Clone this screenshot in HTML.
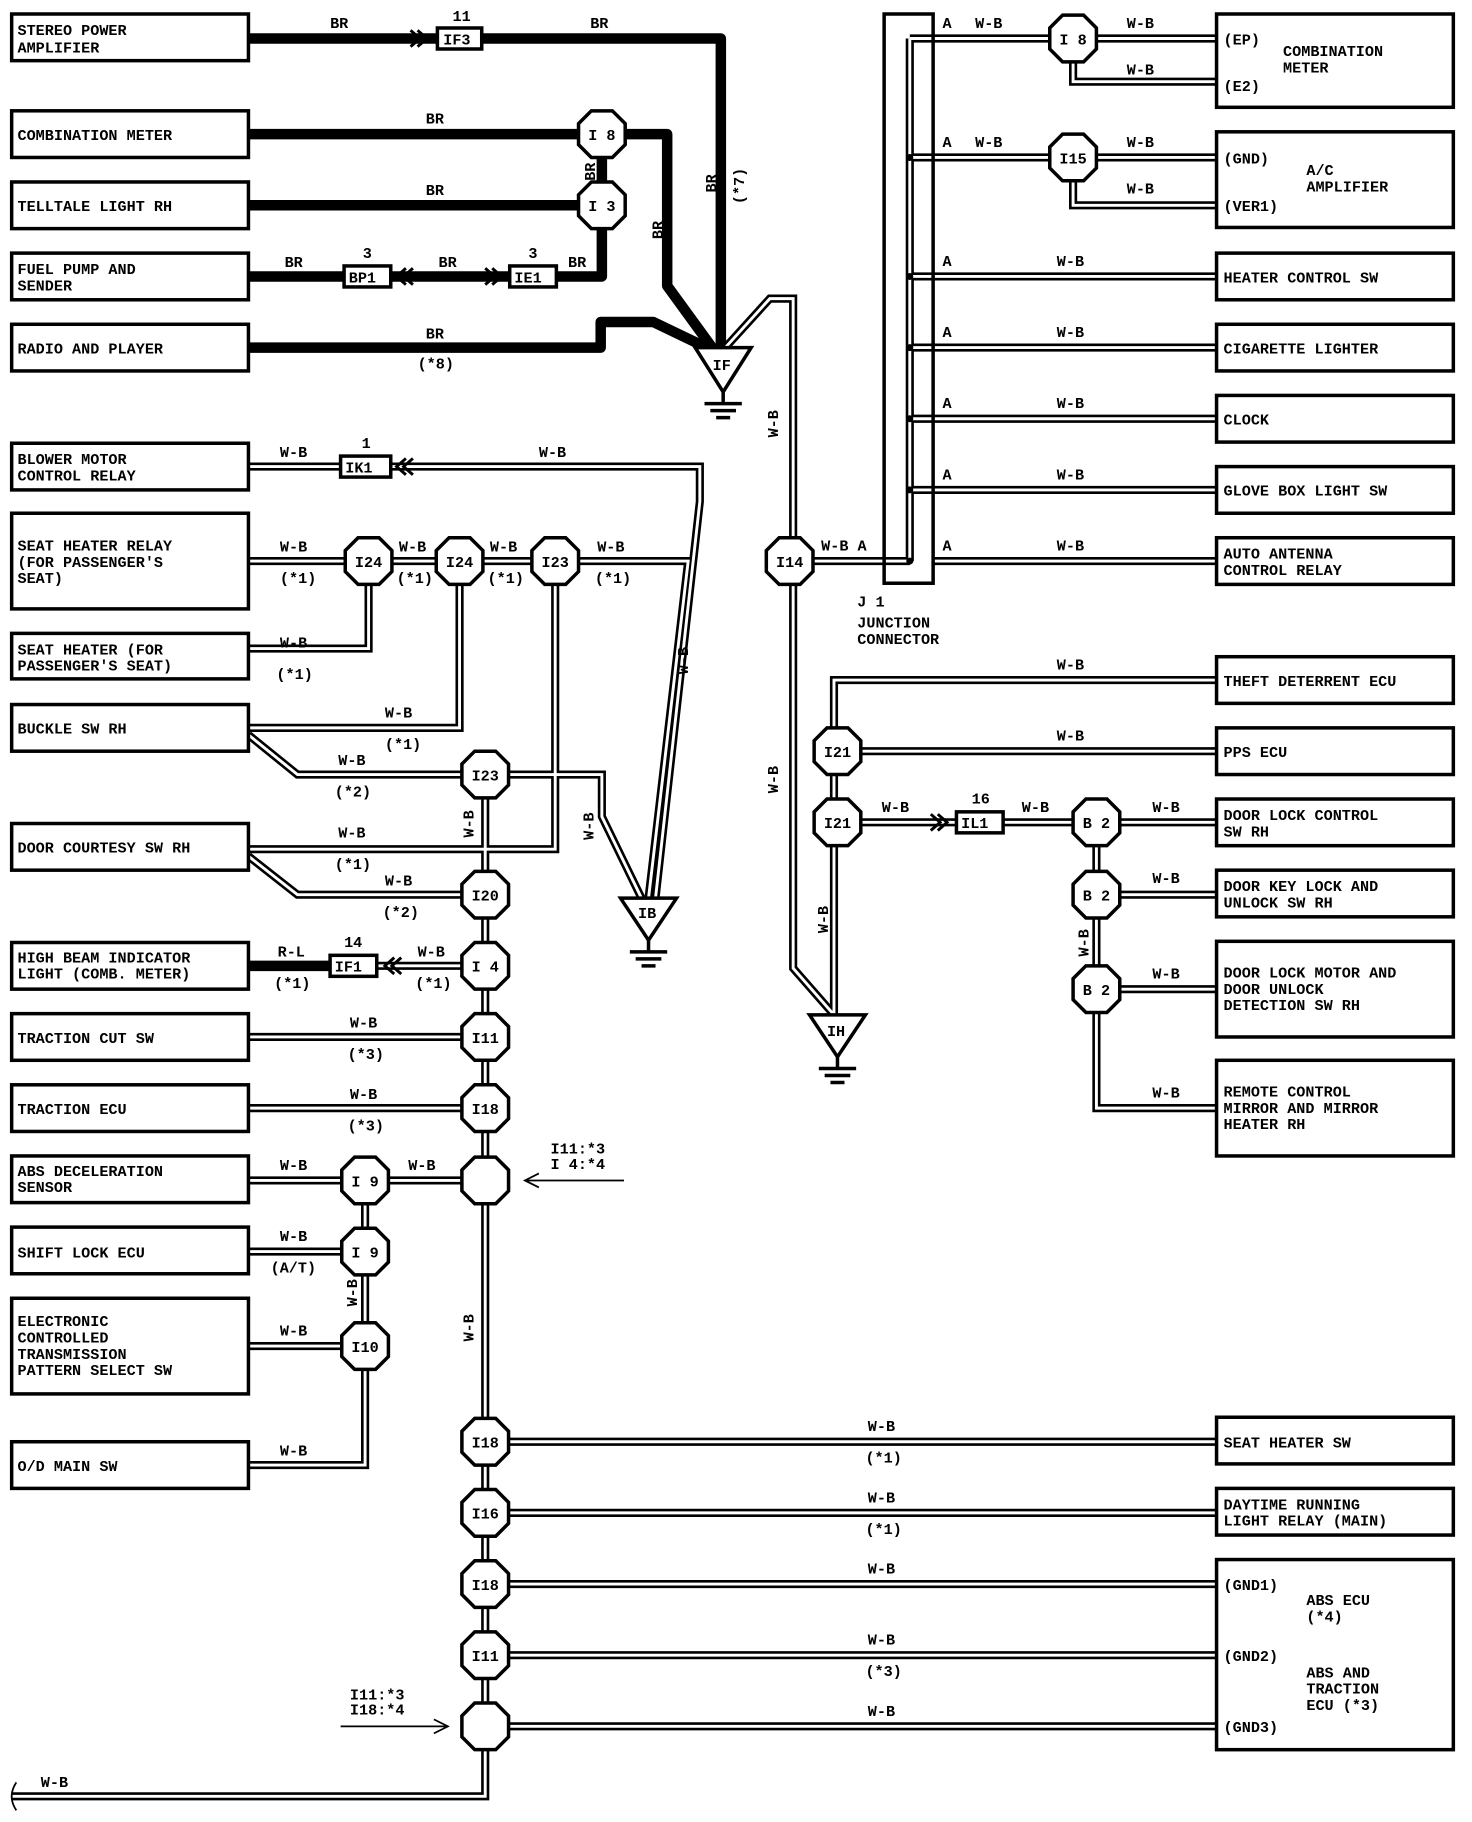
<!DOCTYPE html>
<html><head><meta charset="utf-8"><style>
html,body{margin:0;padding:0;background:#fff;}
svg{display:block;}
text{font-family:"Liberation Mono",monospace;font-weight:bold;font-size:13px;fill:#000;}
.bx{fill:#fff;stroke:#000;stroke-width:3;}
.oc{fill:#fff;stroke:#000;stroke-width:3;}
.br{fill:none;stroke:#000;stroke-width:9;stroke-linejoin:round;}
</style></head><body>
<svg width="1472" height="1822" viewBox="0 0 1262 1562" preserveAspectRatio="none" xmlns="http://www.w3.org/2000/svg">
<defs>
<g id="wb" fill="none">
<path d="M620,300 L660,256 L680,256 L680,830 L715,870"/>
<path d="M697,481 L780,481 M780,33 L780,481"/>
<path d="M780,33 H1043 M920,53 V70 H1043 M780,135 H1043 M920,155 V176 H1043"/>
<path d="M780,237 H1043 M780,298 H1043 M780,359 H1043 M780,420 H1043 M800,481 H1043"/>
<path d="M1043,583 H715 V870 M738,644 H1043 M738,705 H1043 M940,705 V950 H1043 M940,767 H1043 M940,848 H1043"/>
<path d="M213,400 H600 V430 L562,770"/>
<path d="M213,481 H590 L556,770"/>
<path d="M213,556 H316 V481 M213,624 H394 V481 M213,630 L255,664 H516 V700 L550,770"/>
<path d="M476,481 V728 H213 M213,734 L255,767 H416"/>
<path d="M416,664 V1540 H10"/>
<path d="M213,889 H416 M213,950 H416 M213,1012 H416 M213,1073 H313 M313,1012 V1256 H213 M213,1154 H313"/>
<path d="M323,828 H416"/>
<path d="M416,1236 H1043 M416,1297 H1043 M416,1358 H1043 M416,1419 H1043 M416,1480 H1043"/>
</g>
</defs>
<rect width="1262" height="1562" fill="#fff"/>
<!-- BR thick -->
<path class="br" d="M213,33 H618 V300"/>
<path class="br" d="M213,115 H572 V245 L612,300"/>
<path class="br" d="M516,115 V176 M213,176 H516 M213,237 H516 V176"/>
<path class="br" d="M213,298 H515 V276 H560 L610,300"/>
<path class="br" d="M213,828 H300"/>
<!-- W-B double -->
<use href="#wb" stroke="#000" stroke-width="7"/>
<use href="#wb" stroke="#fff" stroke-width="2.5"/>
<!-- J1 -->
<rect x="758" y="12" width="42" height="488" fill="none" stroke="#000" stroke-width="3"/>
<g fill="#000"><circle cx="780" cy="135" r="3"/><circle cx="780" cy="237" r="3"/><circle cx="780" cy="298" r="3"/><circle cx="780" cy="359" r="3"/><circle cx="780" cy="420" r="3"/><circle cx="780" cy="481" r="3"/></g>
<!-- left boxes -->
<g class="bx">
<rect x="10" y="12" width="203" height="40"/><rect x="10" y="95" width="203" height="40"/><rect x="10" y="156" width="203" height="40"/>
<rect x="10" y="217" width="203" height="40"/><rect x="10" y="278" width="203" height="40"/><rect x="10" y="380" width="203" height="40"/>
<rect x="10" y="440" width="203" height="82"/><rect x="10" y="543" width="203" height="39"/><rect x="10" y="604" width="203" height="40"/>
<rect x="10" y="706" width="203" height="40"/><rect x="10" y="808" width="203" height="40"/><rect x="10" y="869" width="203" height="40"/>
<rect x="10" y="930" width="203" height="40"/><rect x="10" y="991" width="203" height="40"/><rect x="10" y="1052" width="203" height="40"/>
<rect x="10" y="1113" width="203" height="82"/><rect x="10" y="1236" width="203" height="40"/>
<rect x="1043" y="12" width="203" height="80"/><rect x="1043" y="113" width="203" height="82"/><rect x="1043" y="217" width="203" height="40"/>
<rect x="1043" y="278" width="203" height="40"/><rect x="1043" y="339" width="203" height="40"/><rect x="1043" y="400" width="203" height="40"/>
<rect x="1043" y="461" width="203" height="40"/><rect x="1043" y="563" width="203" height="40"/><rect x="1043" y="624" width="203" height="40"/>
<rect x="1043" y="685" width="203" height="40"/><rect x="1043" y="746" width="203" height="40"/><rect x="1043" y="807" width="203" height="82"/>
<rect x="1043" y="909" width="203" height="82"/><rect x="1043" y="1215" width="203" height="40"/><rect x="1043" y="1276" width="203" height="40"/>
<rect x="1043" y="1337" width="203" height="163"/>
</g>
<g>
<text x="15" y="30">STEREO POWER</text><text x="15" y="45">AMPLIFIER</text>
<text x="15" y="120">COMBINATION METER</text>
<text x="15" y="181">TELLTALE LIGHT RH</text>
<text x="15" y="235">FUEL PUMP AND</text><text x="15" y="249">SENDER</text>
<text x="15" y="303">RADIO AND PLAYER</text>
<text x="15" y="398">BLOWER MOTOR</text><text x="15" y="412">CONTROL RELAY</text>
<text x="15" y="472">SEAT HEATER RELAY</text><text x="15" y="486">(FOR PASSENGER'S</text><text x="15" y="500">SEAT)</text>
<text x="15" y="561">SEAT HEATER (FOR</text><text x="15" y="575">PASSENGER'S SEAT)</text>
<text x="15" y="629">BUCKLE SW RH</text>
<text x="15" y="731">DOOR COURTESY SW RH</text>
<text x="15" y="825">HIGH BEAM INDICATOR</text><text x="15" y="839">LIGHT (COMB. METER)</text>
<text x="15" y="894">TRACTION CUT SW</text>
<text x="15" y="955">TRACTION ECU</text>
<text x="15" y="1008">ABS DECELERATION</text><text x="15" y="1022">SENSOR</text>
<text x="15" y="1078">SHIFT LOCK ECU</text>
<text x="15" y="1137">ELECTRONIC</text><text x="15" y="1151">CONTROLLED</text><text x="15" y="1165">TRANSMISSION</text><text x="15" y="1179">PATTERN SELECT SW</text>
<text x="15" y="1261">O/D MAIN SW</text>
<text x="1049" y="38">(EP)</text><text x="1100" y="48">COMBINATION</text><text x="1100" y="62">METER</text><text x="1049" y="78">(E2)</text>
<text x="1049" y="140">(GND)</text><text x="1120" y="150">A/C</text><text x="1120" y="164">AMPLIFIER</text><text x="1049" y="181">(VER1)</text>
<text x="1049" y="242">HEATER CONTROL SW</text>
<text x="1049" y="303">CIGARETTE LIGHTER</text>
<text x="1049" y="364">CLOCK</text>
<text x="1049" y="425">GLOVE BOX LIGHT SW</text>
<text x="1049" y="479">AUTO ANTENNA</text><text x="1049" y="493">CONTROL RELAY</text>
<text x="1049" y="588">THEFT DETERRENT ECU</text>
<text x="1049" y="649">PPS ECU</text>
<text x="1049" y="703">DOOR LOCK CONTROL</text><text x="1049" y="717">SW RH</text>
<text x="1049" y="764">DOOR KEY LOCK AND</text><text x="1049" y="778">UNLOCK SW RH</text>
<text x="1049" y="838">DOOR LOCK MOTOR AND</text><text x="1049" y="852">DOOR UNLOCK</text><text x="1049" y="866">DETECTION SW RH</text>
<text x="1049" y="940">REMOTE CONTROL</text><text x="1049" y="954">MIRROR AND MIRROR</text><text x="1049" y="968">HEATER RH</text>
<text x="1049" y="1241">SEAT HEATER SW</text>
<text x="1049" y="1294">DAYTIME RUNNING</text><text x="1049" y="1308">LIGHT RELAY (MAIN)</text>
<text x="1049" y="1363">(GND1)</text><text x="1120" y="1376">ABS ECU</text><text x="1120" y="1390">(*4)</text>
<text x="1049" y="1424">(GND2)</text><text x="1120" y="1438">ABS AND</text><text x="1120" y="1452">TRACTION</text><text x="1120" y="1466">ECU (*3)</text>
<text x="1049" y="1485">(GND3)</text>
<text x="735" y="520">J 1</text><text x="735" y="538">JUNCTION</text><text x="735" y="552">CONNECTOR</text>
</g>
<!-- inline connectors -->
<g class="bx" stroke-width="2.5">
<rect x="375" y="24" width="38" height="18"/><rect x="295" y="228" width="40" height="18"/><rect x="437" y="228" width="40" height="18"/>
<rect x="292" y="391" width="43" height="18"/><rect x="283" y="819" width="40" height="18"/><rect x="820" y="696" width="40" height="18"/>
</g>
<g fill="none" stroke="#000" stroke-width="2.5">
<path d="M352,26 L360,33 L352,40 M358,26 L366,33 L358,40"/>
<path d="M348,230 L340,237 L348,244 M354,230 L346,237 L354,244"/>
<path d="M416,230 L424,237 L416,244 M422,230 L430,237 L422,244"/>
<path d="M348,393 L340,400 L348,407 M354,393 L346,400 L354,407"/>
<path d="M338,821 L330,828 L338,835 M344,821 L336,828 L344,835"/>
<path d="M798,698 L806,705 L798,712 M804,698 L812,705 L804,712"/>
</g>
<text x="380" y="38">IF3</text><text x="299" y="242">BP1</text><text x="441" y="242">IE1</text>
<text x="296" y="405">IK1</text><text x="287" y="833">IF1</text><text x="824" y="710">IL1</text>
<text x="388" y="18">11</text><text x="311" y="221">3</text><text x="453" y="221">3</text><text x="310" y="384">1</text><text x="295" y="812">14</text><text x="833" y="689">16</text>
<!-- octagons -->
<g class="oc">
<g transform="translate(516,115)"><polygon id="oct" points="-9,-20 9,-20 20,-9 20,9 9,20 -9,20 -20,9 -20,-9"/></g>
<use href="#oct" x="516" y="176"/><use href="#oct" x="920" y="33"/><use href="#oct" x="920" y="135"/>
<use href="#oct" x="677" y="481"/><use href="#oct" x="316" y="481"/><use href="#oct" x="394" y="481"/><use href="#oct" x="476" y="481"/>
<use href="#oct" x="416" y="664"/><use href="#oct" x="416" y="767"/><use href="#oct" x="416" y="828"/><use href="#oct" x="416" y="889"/>
<use href="#oct" x="416" y="950"/><use href="#oct" x="416" y="1012"/><use href="#oct" x="313" y="1012"/><use href="#oct" x="313" y="1073"/>
<use href="#oct" x="313" y="1154"/><use href="#oct" x="416" y="1236"/><use href="#oct" x="416" y="1297"/><use href="#oct" x="416" y="1358"/>
<use href="#oct" x="416" y="1419"/><use href="#oct" x="416" y="1480"/><use href="#oct" x="718" y="644"/><use href="#oct" x="718" y="705"/>
<use href="#oct" x="940" y="705"/><use href="#oct" x="940" y="767"/><use href="#oct" x="940" y="848"/>
</g>
<g text-anchor="middle">
<text x="516" y="120">I 8</text><text x="516" y="181">I 3</text><text x="920" y="38">I 8</text><text x="920" y="140">I15</text>
<text x="677" y="486">I14</text><text x="316" y="486">I24</text><text x="394" y="486">I24</text><text x="476" y="486">I23</text>
<text x="416" y="669">I23</text><text x="416" y="772">I20</text><text x="416" y="833">I 4</text><text x="416" y="894">I11</text>
<text x="416" y="955">I18</text><text x="313" y="1017">I 9</text><text x="313" y="1078">I 9</text><text x="313" y="1159">I10</text>
<text x="416" y="1241">I18</text><text x="416" y="1302">I16</text><text x="416" y="1363">I18</text><text x="416" y="1424">I11</text>
<text x="718" y="649">I21</text><text x="718" y="710">I21</text><text x="940" y="710">B 2</text><text x="940" y="772">B 2</text><text x="940" y="853">B 2</text>
</g>
<!-- grounds -->
<g fill="#fff" stroke="#000" stroke-width="3">
<polygon points="596,298 644,298 620,336"/><polygon points="532,770 580,770 556,806"/><polygon points="694,870 742,870 718,906"/>
</g>
<g stroke="#000" stroke-width="3">
<path d="M620,336 V346 M604,346 H636 M609,352 H631 M614,358 H626"/>
<path d="M556,806 V816 M540,816 H572 M545,822 H567 M550,828 H562"/>
<path d="M718,906 V916 M702,916 H734 M707,922 H729 M712,928 H724"/>
</g>
<text x="611" y="317">IF</text><text x="547" y="787">IB</text><text x="709" y="888">IH</text>
<!-- wire labels -->
<g>
<text x="283" y="24">BR</text><text x="506" y="24">BR</text><text x="365" y="106">BR</text><text x="365" y="167">BR</text>
<text x="244" y="229">BR</text><text x="376" y="229">BR</text><text x="487" y="229">BR</text><text x="365" y="290">BR</text><text x="358" y="316">(*8)</text>
<text x="240" y="392">W-B</text><text x="462" y="392">W-B</text>
<text x="240" y="473">W-B</text><text x="240" y="500">(*1)</text><text x="342" y="473">W-B</text><text x="340" y="500">(*1)</text>
<text x="420" y="473">W-B</text><text x="418" y="500">(*1)</text><text x="512" y="473">W-B</text><text x="510" y="500">(*1)</text>
<text x="240" y="555">W-B</text><text x="237" y="582">(*1)</text><text x="330" y="615">W-B</text><text x="330" y="642">(*1)</text>
<text x="290" y="656">W-B</text><text x="287" y="683">(*2)</text><text x="290" y="718">W-B</text><text x="287" y="745">(*1)</text>
<text x="330" y="759">W-B</text><text x="328" y="786">(*2)</text>
<text x="238" y="820" >R-L</text><text x="235" y="847">(*1)</text><text x="358" y="820">W-B</text><text x="356" y="847">(*1)</text>
<text x="300" y="881">W-B</text><text x="298" y="908">(*3)</text><text x="300" y="942">W-B</text><text x="298" y="969">(*3)</text>
<text x="240" y="1003">W-B</text><text x="350" y="1003">W-B</text><text x="240" y="1064">W-B</text><text x="232" y="1091">(A/T)</text>
<text x="240" y="1145">W-B</text><text x="240" y="1248">W-B</text>
<text x="744" y="1227">W-B</text><text x="742" y="1254">(*1)</text><text x="744" y="1288">W-B</text><text x="742" y="1315">(*1)</text>
<text x="744" y="1349">W-B</text><text x="744" y="1410">W-B</text><text x="742" y="1437">(*3)</text><text x="744" y="1471">W-B</text>
<text x="35" y="1532">W-B</text>
<text x="808" y="24">A</text><text x="836" y="24">W-B</text><text x="966" y="24">W-B</text><text x="966" y="64">W-B</text>
<text x="808" y="126">A</text><text x="836" y="126">W-B</text><text x="966" y="126">W-B</text><text x="966" y="166">W-B</text>
<text x="808" y="228">A</text><text x="906" y="228">W-B</text><text x="808" y="289">A</text><text x="906" y="289">W-B</text>
<text x="808" y="350">A</text><text x="906" y="350">W-B</text><text x="808" y="411">A</text><text x="906" y="411">W-B</text>
<text x="808" y="472">A</text><text x="906" y="472">W-B</text><text x="704" y="472">W-B A</text>
<text x="906" y="574">W-B</text><text x="906" y="635">W-B</text><text x="756" y="696">W-B</text><text x="876" y="696">W-B</text>
<text x="988" y="696">W-B</text><text x="988" y="757">W-B</text><text x="988" y="839">W-B</text><text x="988" y="941">W-B</text>
<text x="472" y="989">I11:*3</text><text x="472" y="1002">I 4:*4</text>
<text x="300" y="1457">I11:*3</text><text x="300" y="1470">I18:*4</text>
</g>
<g font-family="Liberation Mono" font-weight="bold" font-size="13">
<text transform="translate(614,165) rotate(-90)">BR</text><text transform="translate(638,175) rotate(-90)">(*7)</text>
<text transform="translate(510,155) rotate(-90)">BR</text><text transform="translate(568,205) rotate(-90)">BR</text>
<text transform="translate(667,375) rotate(-90)">W-B</text><text transform="translate(667,680) rotate(-90)">W-B</text>
<text transform="translate(590,578) rotate(-90)">W-B</text><text transform="translate(509,720) rotate(-90)">W-B</text>
<text transform="translate(406,718) rotate(-90)">W-B</text><text transform="translate(710,800) rotate(-90)">W-B</text>
<text transform="translate(933,820) rotate(-90)">W-B</text><text transform="translate(306,1120) rotate(-90)">W-B</text>
<text transform="translate(406,1150) rotate(-90)">W-B</text>
</g>
<!-- arrows -->
<g stroke="#000" stroke-width="1.5" fill="none">
<path d="M535,1012 H452 M462,1006 L450,1012 L462,1018"/>
<path d="M292,1480 H382 M372,1474 L384,1480 L372,1486"/>
<path d="M14,1528 Q6,1540 14,1552"/>
</g>
</svg>
</body></html>
